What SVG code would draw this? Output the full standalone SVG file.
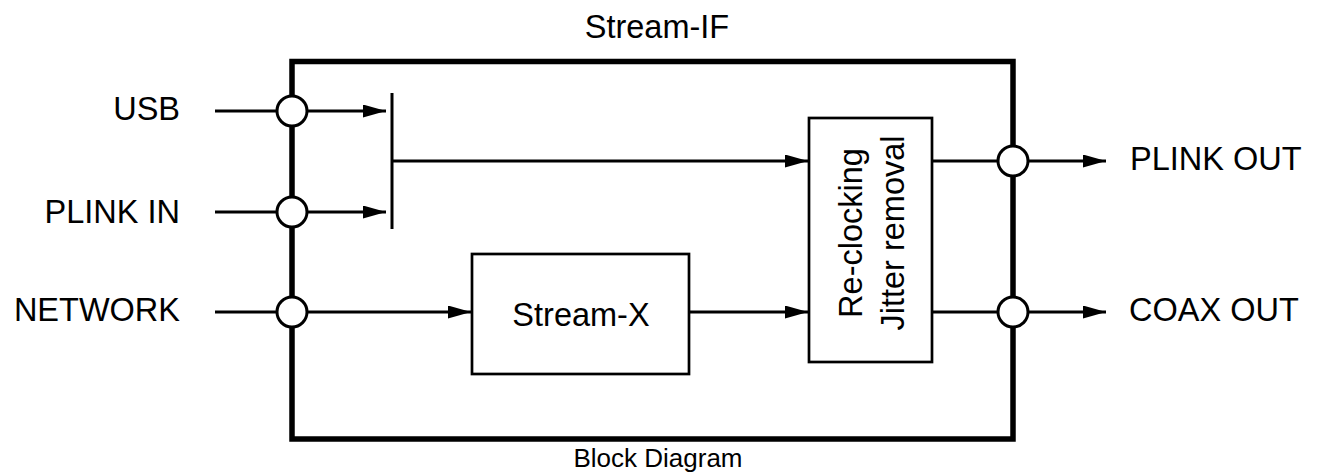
<svg xmlns="http://www.w3.org/2000/svg" width="1317" height="473" viewBox="0 0 1317 473">
<style>
.t{font-family:"Liberation Sans",Arial,sans-serif;font-size:32.5px;fill:#000}
.ln{stroke:#000;stroke-width:3;fill:none}
.box{stroke:#000;stroke-width:2.7;fill:#fff}
.port{stroke:#000;stroke-width:3;fill:#fff}
</style>
<defs>
<marker id="ah" markerUnits="userSpaceOnUse" markerWidth="24" markerHeight="14" refX="23" refY="6.5" orient="auto">
<path d="M0,0 L23,6.5 L0,13 Z" fill="#000"/>
</marker>
</defs>
<rect width="1317" height="473" fill="#fff"/>
<g id="stream-if">
<rect x="292" y="61.5" width="721" height="377.5" fill="none" stroke="#000" stroke-width="5.5"/>
<text class="t" x="657" y="38" text-anchor="middle">Stream-IF</text>
</g>
<g id="connectors">
<line class="ln" x1="215" y1="111" x2="292" y2="111"/>
<line class="ln" x1="292" y1="111" x2="386" y2="111" marker-end="url(#ah)"/>
<line class="ln" x1="215" y1="212" x2="292" y2="212"/>
<line class="ln" x1="292" y1="212" x2="386" y2="212" marker-end="url(#ah)"/>
<line class="ln" x1="392" y1="93" x2="392" y2="229"/>
<line class="ln" x1="392" y1="161" x2="808" y2="161" marker-end="url(#ah)"/>
<line class="ln" x1="215" y1="312" x2="292" y2="312"/>
<line class="ln" x1="292" y1="312" x2="471" y2="312" marker-end="url(#ah)"/>
<line class="ln" x1="689" y1="312" x2="808" y2="312" marker-end="url(#ah)"/>
<line class="ln" x1="932" y1="161" x2="1013" y2="161"/>
<line class="ln" x1="1013" y1="161" x2="1106" y2="161" marker-end="url(#ah)"/>
<line class="ln" x1="932" y1="312" x2="1013" y2="312"/>
<line class="ln" x1="1013" y1="312" x2="1106" y2="312" marker-end="url(#ah)"/>
</g>
<g id="port-usb"><circle class="port" cx="292" cy="111" r="15"/><text class="t" x="180" y="120" text-anchor="end">USB</text></g>
<g id="port-plink-in"><circle class="port" cx="292" cy="212" r="15"/><text class="t" x="180" y="223" text-anchor="end">PLINK IN</text></g>
<g id="port-network"><circle class="port" cx="292" cy="312" r="15"/><text class="t" x="180" y="321" text-anchor="end">NETWORK</text></g>
<g id="port-plink-out"><circle class="port" cx="1013" cy="161" r="15"/><text class="t" x="1130" y="170">PLINK OUT</text></g>
<g id="port-coax-out"><circle class="port" cx="1013" cy="312" r="15"/><text class="t" x="1129" y="321">COAX OUT</text></g>
<g id="stream-x">
<rect class="box" x="472" y="254" width="217" height="120"/>
<text class="t" x="581" y="326" text-anchor="middle">Stream-X</text>
</g>
<g id="reclocking">
<rect class="box" x="809" y="118" width="123" height="244"/>
<text class="t" transform="translate(862,233) rotate(-90)" text-anchor="middle">Re-clocking</text>
<text class="t" transform="translate(904,233) rotate(-90)" text-anchor="middle">Jitter removal</text>
</g>
<g id="caption">
<text class="t" x="658" y="467" text-anchor="middle" style="font-size:26px">Block Diagram</text>
</g>
</svg>
